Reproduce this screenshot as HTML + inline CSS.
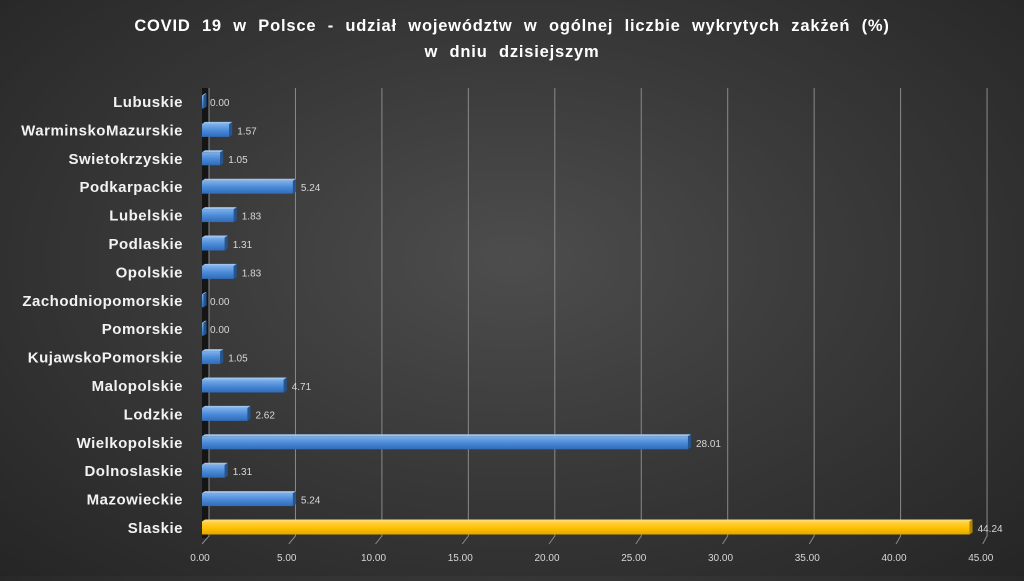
<!DOCTYPE html>
<html><head><meta charset="utf-8"><style>
html,body{margin:0;padding:0}
body{width:1024px;height:576px;overflow:hidden;background:radial-gradient(ellipse at 50% 45%,#4d4d4d 0%,#3a3a3a 45%,#252525 100%);font-family:"Liberation Sans",sans-serif}
</style></head><body>
<svg id="chart" width="1024" height="576" xmlns="http://www.w3.org/2000/svg">
<defs>
<linearGradient id="gb" x1="0" y1="0" x2="0" y2="1"><stop offset="0" stop-color="#7fb0ea"/><stop offset="0.5" stop-color="#4a8ad8"/><stop offset="1" stop-color="#2f6cb8"/></linearGradient>
<linearGradient id="gy" x1="0" y1="0" x2="0" y2="1"><stop offset="0" stop-color="#ffd24a"/><stop offset="0.5" stop-color="#ffc000"/><stop offset="1" stop-color="#e0a800"/></linearGradient>
</defs>
<text x="512" y="31" text-anchor="middle" fill="#fff" font-weight="bold" font-size="16.5" letter-spacing="0.8" word-spacing="6">COVID 19 w Polsce - udział województw w ogólnej liczbie wykrytych zakżeń (%)</text>
<text x="512" y="57" text-anchor="middle" fill="#fff" font-weight="bold" font-size="16.5" letter-spacing="0.8" word-spacing="6">w dniu dzisiejszym</text>
<rect x="202" y="88" width="7" height="450" fill="#151515"/>
<g id="grid"></g><g id="bars"></g><g id="labels"></g>
</svg>
<script>
const categories=["Lubuskie","WarminskoMazurskie","Swietokrzyskie","Podkarpackie","Lubelskie","Podlaskie","Opolskie","Zachodniopomorskie","Pomorskie","KujawskoPomorskie","Malopolskie","Lodzkie","Wielkopolskie","Dolnoslaskie","Mazowieckie","Slaskie"];
const values=[0.00,1.57,1.05,5.24,1.83,1.31,1.83,0.00,0.00,1.05,4.71,2.62,28.01,1.31,5.24,44.24];
const ticks=[0,5,10,15,20,25,30,35,40,45];
const tickLabels=["0.00","5.00","10.00","15.00","20.00","25.00","30.00","35.00","40.00","45.00"];
const NS="http://www.w3.org/2000/svg";
const xF=v=>202+v*17.35, xB=v=>209+v*17.29;
const yC=i=>102+i*28.4;
function mk(t,a,p){const e=document.createElementNS(NS,t);for(const k in a)e.setAttribute(k,a[k]);p.appendChild(e);return e;}
const g=document.getElementById('grid'),b=document.getElementById('bars'),l=document.getElementById('labels');
ticks.forEach((t,i)=>{
 const ln=mk('path',{d:`M${xB(t)} 88 V536 L${xF(t)} 544`,stroke:'#8a8a8a','stroke-width':1,fill:'none'},g);
 
 
 const tx=mk('text',{x:xF(t)-2,y:561,'text-anchor':'middle',fill:'#d8d8d8','font-size':10},g);
 tx.textContent=tickLabels[i];
 
 
});
categories.forEach((c,i)=>{
 const y=yC(i),v=values[i],yel=i===categories.length-1;
 const w=Math.max(xF(v)-202,1.5);
 const r=mk('rect',{x:202,y:y-6.5,width:w,height:13,fill:yel?'url(#gy)':'url(#gb)'},b);
 
 
 mk('path',{d:`M${202+w} ${y-6.5} l3 -2 v13 l-3 2 z`,fill:yel?'#b08400':'#24558f'},b);
 mk('path',{d:`M202 ${y-6.5} l3 -2 h${w} l-3 2 z`,fill:yel?'#ffdb6a':'#9cc4f0'},b);
 const cl=mk('text',{x:183,y:y+5,'text-anchor':'end',fill:'#f2f2f2','font-weight':'bold','font-size':15,'letter-spacing':0.5},l);
 cl.textContent=c;
 
 
 const vl=mk('text',{x:xF(v)+8,y:y+4,fill:'#d8d8d8','font-size':10},l);
 vl.textContent=v.toFixed(2);
 
 
});
</script>
</body></html>
